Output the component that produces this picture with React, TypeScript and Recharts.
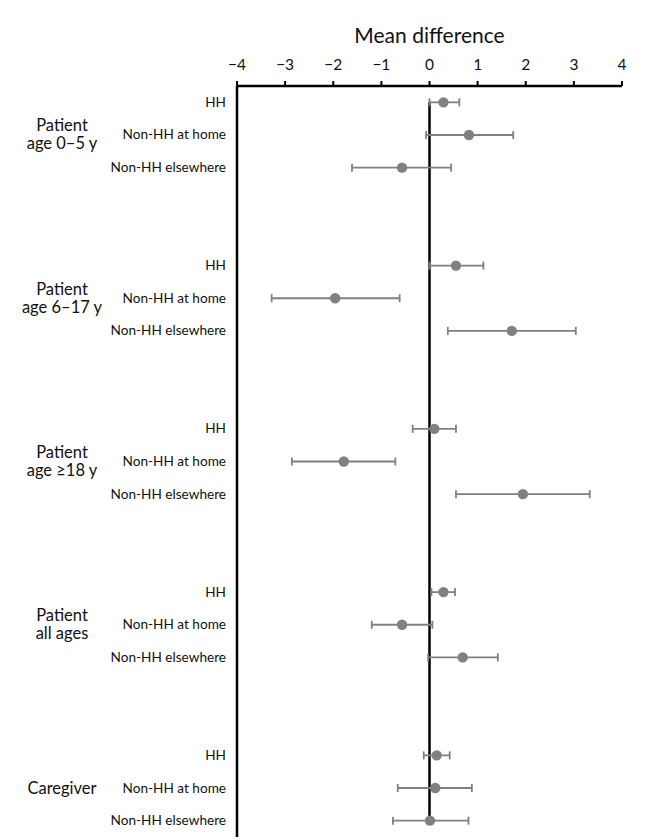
import { ScatterChart, Scatter, XAxis, YAxis, ErrorBar, ReferenceLine } from 'recharts'

// ─── data ─────────────────────────────────────────────────────────────────

const GROUPS = [
  ['Patient', 'age 0–5 y'],
  ['Patient', 'age 6–17 y'],
  ['Patient', 'age ≥18 y'],
  ['Patient', 'all ages'],
  ['Caregiver'],
]
const CONTACTS = ['HH', 'Non-HH at home', 'Non-HH elsewhere']

// one value per group × contact, in the order above
const MEAN = [
  0.29, 0.82, -0.57,
  0.55, -1.96, 1.71,
  0.10, -1.78, 1.94,
  0.29, -0.57, 0.69,
  0.15, 0.12, 0.01,
]
const LOW = [
  0.00, -0.07, -1.61,
  0.00, -3.28, 0.38,
  -0.35, -2.86, 0.55,
  0.04, -1.20, -0.03,
  -0.12, -0.66, -0.76,
]
const HIGH = [
  0.62, 1.74, 0.45,
  1.12, -0.62, 3.04,
  0.55, -0.71, 3.33,
  0.53, 0.06, 1.42,
  0.42, 0.88, 0.81,
]
const X_TICKS = [-4, -3, -2, -1, 0, 1, 2, 3, 4]

// rows: 3 contacts + 2 blank rows per group
const ROWS_PER_GROUP = 5
const LAST_ROW = (GROUPS.length - 1) * ROWS_PER_GROUP + CONTACTS.length - 1

const points = MEAN.map((m, i) => {
  const g = Math.floor(i / CONTACTS.length)
  const c = i % CONTACTS.length
  return {
    row: g * ROWS_PER_GROUP + c,
    mean: m,
    err: [m - LOW[i], HIGH[i] - m],
  }
})
const rowTicks = points.map(p => p.row)

const FONT = 'Lato, "Open Sans", sans-serif'
const GREY = '#808080'

// ─── y tick: contact label + group label on the middle row ───────────────

function RowTick({ x, y, payload }: any) {
  const row = payload.value as number
  const g = Math.floor(row / ROWS_PER_GROUP)
  const c = row % ROWS_PER_GROUP
  const group = GROUPS[g]
  return (
    <g>
      <text x={x} y={y} dy={4.5} textAnchor="end" fontSize={13.6} fill="#111" fontFamily={FONT}>
        {CONTACTS[c]}
      </text>
      {c === 1 && group.map((line, i) => (
        <text
          key={i}
          x={54}
          y={y + (i - (group.length - 1) / 2) * 18}
          dy={5.5}
          textAnchor="middle"
          fontSize={16.5}
          fill="#111"
          fontFamily={FONT}
        >
          {line}
        </text>
      ))}
    </g>
  )
}

function Dot({ cx, cy }: any) {
  return <circle cx={cx} cy={cy} r={5.2} fill={GREY} />
}

export default function App() {
  return (
    <ScatterChart width={642} height={832} margin={{ top: 10, right: 28, bottom: 3, left: 0 }}>
      <XAxis
        type="number"
        dataKey="mean"
        orientation="top"
        domain={[-4, 4]}
        ticks={X_TICKS}
        interval={0}
        tickFormatter={(v: number) => (v < 0 ? `−${Math.abs(v)}` : `${v}`)}
        height={68}
        axisLine={{ stroke: '#000', strokeWidth: 2.5 }}
        tickLine={{ stroke: '#000', strokeWidth: 2 }}
        tickSize={5}
        tick={{ fill: '#111', fontSize: 15.5, fontFamily: FONT, dy: -9 }}
        label={{ value: 'Mean difference', position: 'insideTop', offset: 10, fontSize: 21, fill: '#111', fontFamily: FONT }}
      />
      <YAxis
        type="number"
        dataKey="row"
        domain={[-0.5, LAST_ROW + 0.5]}
        reversed
        ticks={rowTicks}
        interval={0}
        width={229}
        axisLine={{ stroke: '#000', strokeWidth: 2.5 }}
        tickLine={false}
        tickMargin={5}
        tick={<RowTick />}
      />
      <ReferenceLine
        segment={[{ x: 0, y: 0 }, { x: 0, y: LAST_ROW }]}
        stroke="#000"
        strokeWidth={2.5}
      />
      <Scatter data={points} shape={<Dot />} isAnimationActive={false}>
        <ErrorBar dataKey="err" direction="x" width={4} stroke={GREY} strokeWidth={1.8} />
      </Scatter>
    </ScatterChart>
  )
}
